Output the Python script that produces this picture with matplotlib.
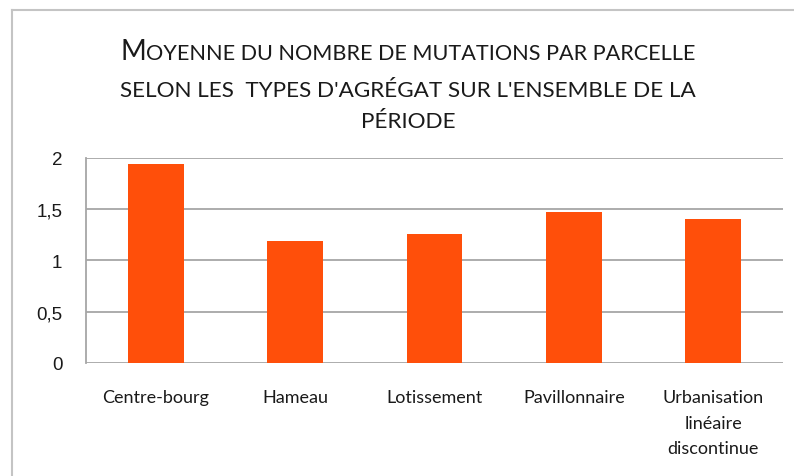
import matplotlib
matplotlib.use('Agg')
import matplotlib.pyplot as plt
from matplotlib.lines import Line2D
from matplotlib.ticker import FuncFormatter

categories = ['Centre-bourg', 'Hameau', 'Lotissement', 'Pavillonnaire',
              'Urbanisation\nlinéaire\ndiscontinue']
moyennes = [1.94, 1.19, 1.26, 1.47, 1.405]
yticks = [0, 0.5, 1, 1.5, 2]

couleur_barre = '#ff4f0a'
couleur_grille = '#a6a6a6'
couleur_texte = '#1a1a1a'

plt.rcParams['font.family'] = ['Liberation Sans', 'DejaVu Sans']

fig = plt.figure(figsize=(7.94, 4.77), dpi=100)
ax = fig.add_axes([0.1083, 0.2369, 0.8777, 0.4298])

ax.bar(range(len(categories)), moyennes, width=0.4, color=couleur_barre, zorder=3)
ax.set_xlim(-0.5, len(categories) - 0.5)
ax.set_ylim(0, 2)
ax.set_yticks(yticks)
ax.yaxis.set_major_formatter(FuncFormatter(lambda v, p: f'{v:g}'.replace('.', ',')))
ax.set_xticks(range(len(categories)))
ax.set_xticklabels(categories, fontfamily='Lato', fontsize=13,
                   color=couleur_texte, linespacing=1.72)

ax.tick_params(axis='both', length=0)
ax.tick_params(axis='y', pad=17, labelsize=13.5, labelcolor=couleur_texte)
ax.tick_params(axis='x', pad=19)
ax.grid(axis='y', color=couleur_grille, linewidth=1.3, zorder=0)
for s in ['top', 'right', 'bottom']:
    ax.spines[s].set_visible(False)
ax.spines['left'].set_color(couleur_grille)
ax.spines['left'].set_linewidth(1.3)

# cadre gris autour du graphique
fig.add_artist(Line2D([12 / 794, 12 / 794], [0, 1 - 11 / 477],
                      transform=fig.transFigure, color='#c4c4c4', linewidth=1.5))
fig.add_artist(Line2D([12 / 794, 1], [1 - 11 / 477, 1 - 11 / 477],
                      transform=fig.transFigure, color='#c4c4c4', linewidth=1.5))

# titre en petites capitales
titre_police = dict(fontfamily='Lato', color=couleur_texte)
cx = 408 / 794
ligne1 = 'OYENNE DU NOMBRE DE MUTATIONS PAR PARCELLE'
renderer = fig.canvas.get_renderer()
t_m = fig.text(0, 1 - 60 / 477, 'M', fontsize=20, ha='left', va='baseline', **titre_police)
t_reste = fig.text(0, 1 - 60 / 477, ligne1, fontsize=15.6, ha='left', va='baseline', **titre_police)
w_m = t_m.get_window_extent(renderer).width / 794
w_reste = t_reste.get_window_extent(renderer).width / 794
x0 = cx - (w_m + w_reste) / 2
t_m.set_x(x0)
t_reste.set_x(x0 + w_m)

fig.text(cx, 1 - 97 / 477, "SELON LES  TYPES D'AGRÉGAT SUR L'ENSEMBLE DE LA",
         fontsize=16.2, ha='center', va='baseline', **titre_police)
fig.text(cx, 1 - 128 / 477, 'PÉRIODE', fontsize=16.2, ha='center', va='baseline',
         **titre_police)

fig.savefig('out.png', dpi=100, facecolor='white')
